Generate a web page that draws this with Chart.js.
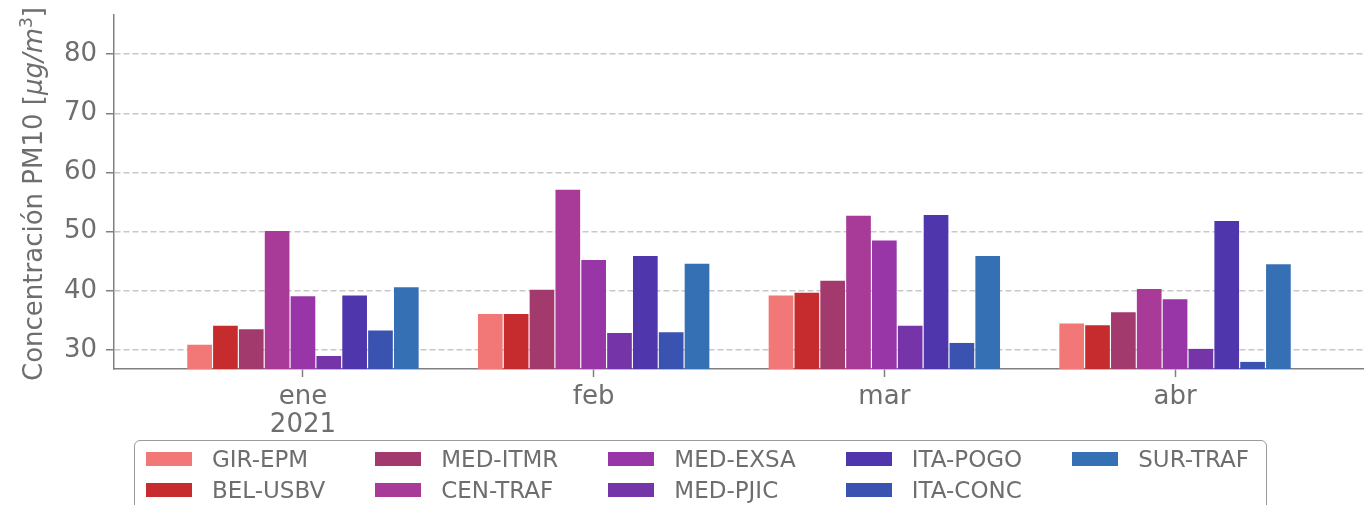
<!DOCTYPE html>
<html>
<head>
<meta charset="utf-8">
<script src="https://cdn.jsdelivr.net/npm/chart.js@4"></script>
<style>
  html, body { margin: 0; padding: 0; background: #fff; overflow: hidden; }
  #wrap { position: relative; width: 1364px; height: 505px; }
  #chart { position: absolute; left: 0; top: 0; }
  #legend {
    position: absolute; left: 134px; top: 440px; width: 1133px; height: 90px;
    border: 1.5px solid #9a9a9a; border-radius: 6px; box-sizing: border-box;
    padding: 10px 0 0 11px;
    display: grid; grid-template-rows: 31px 31px; grid-auto-flow: column;
    grid-auto-columns: max-content; column-gap: 50px;
    font-family: "DejaVu Sans", sans-serif; font-size: 23px; color: #6e6e6e;
  }
  .item { display: flex; align-items: center; height: 14px; margin-top: 1px; }
  .sw { width: 46px; height: 14px; margin-right: 20px; }
</style>
</head>
<body>
<div id="wrap">
  <canvas id="chart" width="1364" height="505"></canvas>
  <div id="legend"></div>
</div>
<script>
document.addEventListener('DOMContentLoaded', () => {

  const months = [['ene', '2021'], 'feb', 'mar', 'abr'];
  const stations = ['GIR-EPM', 'BEL-USBV', 'MED-ITMR', 'CEN-TRAF', 'MED-EXSA',
                    'MED-PJIC', 'ITA-POGO', 'ITA-CONC', 'SUR-TRAF'];
  const colors = ['#f27777', '#c62b2d', '#a33a6e', '#a83a98', '#9836a7',
                  '#7535a8', '#5036ac', '#3a52b0', '#3670b4'];

  // PM10 monthly values per station (ene, feb, mar, abr)
  const girEpm  = [30.9, 36.1, 39.2, 34.5];
  const belUsbv = [34.1, 36.1, 39.7, 34.2];
  const medItmr = [33.5, 40.2, 41.7, 36.4];
  const cenTraf = [50.1, 57.1, 52.7, 40.3];
  const medExsa = [39.1, 45.2, 48.5, 38.6];
  const medPjic = [29.0, 32.9, 34.1, 30.2];
  const itaPogo = [39.2, 45.9, 52.8, 51.8];
  const itaConc = [33.3, 33.0, 31.2, 28.0];
  const surTraf = [40.6, 44.6, 45.9, 44.5];
  const series = [girEpm, belUsbv, medItmr, cenTraf, medExsa, medPjic, itaPogo, itaConc, surTraf];

  const yTicks = [30, 40, 50, 60, 70, 80];
  const yMin = 26.8, yMax = 86.6;

  // y title pieces: plain text, math italic, superscript
  const yTitle = [['Concentración PM10 [', ''], ['μg/m', 'italic '], ['3', 'sup'], [']', '']];

  const txt = '#6e6e6e';
  const spine = '#808080';

  const datasets = stations.map((name, i) => ({
    label: name,
    data: series[i].map((v, j) => ({ x: j, y: v })),
    backgroundColor: colors[i],
    borderWidth: 0,
    base: yMin
  }));

  // draws the rotated y title with mixed fonts
  const yTitlePlugin = {
    id: 'yTitle',
    afterDraw(chart) {
      const ctx = chart.ctx;
      const area = chart.chartArea;
      const cy = (area.top + area.bottom) / 2 + 2;
      const fontOf = (style) => style === 'sup' ? '17px "DejaVu Sans"' : style + '26px "DejaVu Sans"';
      let total = 0;
      yTitle.forEach(([t, style]) => { ctx.font = fontOf(style); total += ctx.measureText(t).width; });
      ctx.save();
      ctx.translate(42, cy);
      ctx.rotate(-Math.PI / 2);
      ctx.fillStyle = txt;
      ctx.textBaseline = 'alphabetic';
      ctx.textAlign = 'left';
      let x = -total / 2;
      yTitle.forEach(([t, style]) => {
        ctx.font = fontOf(style);
        ctx.fillText(t, x, style === 'sup' ? -10 : 0);
        x += ctx.measureText(t).width;
      });
      ctx.restore();
    }
  };

  new Chart(document.getElementById('chart').getContext('2d'), {
    type: 'bar',
    data: { datasets },
    plugins: [yTitlePlugin],
    options: {
      responsive: false,
      animation: false,
      categoryPercentage: 0.8,
      barPercentage: 0.955,
      layout: { padding: { left: 0, right: 0, top: 15, bottom: 56 } },
      plugins: { legend: { display: false }, tooltip: { enabled: false } },
      scales: {
        x: {
          type: 'linear',
          min: -0.65,
          max: 3.65,
          offset: false,
          afterBuildTicks: (s) => { s.ticks = months.map((m, i) => ({ value: i })); },
          afterFit: (s) => { s.height = 80; s.paddingLeft = 0; s.paddingRight = 0; },
          ticks: {
            color: txt,
            padding: 6,
            font: { family: 'DejaVu Sans', size: 26, lineHeight: 28 / 26 },
            callback: (v) => months[v]
          },
          grid: { drawOnChartArea: false, tickLength: 8, tickColor: spine, tickWidth: 1.5, offset: false },
          border: { color: spine, width: 1.5 }
        },
        y: {
          min: yMin,
          max: yMax,
          afterBuildTicks: (s) => { s.ticks = yTicks.map(v => ({ value: v })); },
          afterFit: (s) => { s.width = 114; s.paddingTop = 0; s.paddingBottom = 0; },
          ticks: {
            color: txt,
            padding: 9,
            font: { family: 'DejaVu Sans', size: 26 }
          },
          grid: { color: '#c8c8c8', lineWidth: 1.5, tickLength: 8, tickColor: spine, tickWidth: 1.5 },
          border: { color: spine, width: 1.5, dash: [6, 3] }
        }
      }
    }
  });

  // legend, matplotlib style (column-major, 2 rows)
  const legend = document.getElementById('legend');
  stations.forEach((name, i) => {
    const it = document.createElement('div');
    it.className = 'item';
    it.innerHTML = '<span class="sw" style="background:' + colors[i] + '"></span><span>' + name + '</span>';
    legend.appendChild(it);
  });

});
</script>
</body>
</html>
